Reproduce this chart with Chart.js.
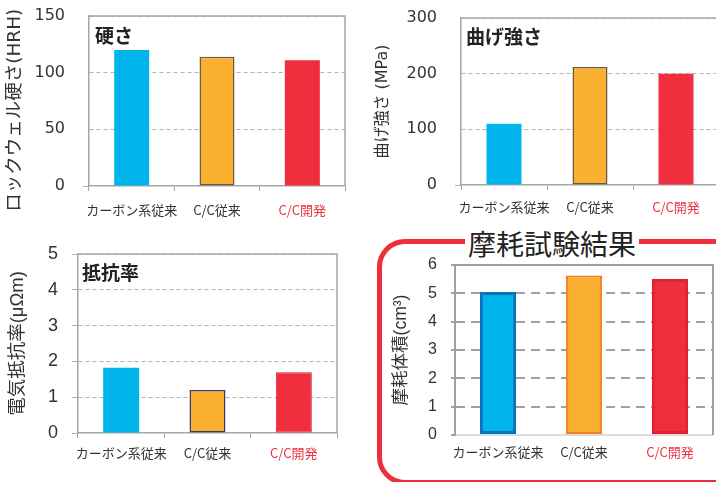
<!DOCTYPE html>
<html lang="ja">
<head>
<meta charset="utf-8">
<script src="https://cdn.jsdelivr.net/npm/chart.js@4.4.1/dist/chart.umd.min.js"></script>
<style>
  html, body { margin: 0; padding: 0; background: #fff; overflow: hidden; }
  #page { position: relative; width: 716px; height: 482px; overflow: hidden; font-family: "Noto Sans CJK JP", sans-serif; }
  canvas { position: absolute; }
  #wearBox { position: absolute; left: 377px; top: 239px; width: 400px; height: 236px; border: 5px solid #ee2e3d; border-radius: 28px; }
  #wearTitle { position: absolute; left: 552px; top: 243px; transform: translate(-50%, -50%); background: #fff; padding: 0 3px; font-size: 28px; color: #222; line-height: 1; white-space: nowrap; }
</style>
</head>
<body>
<div id="page">
  <div id="wearBox"></div>
  <div id="wearTitle">摩耗試験結果</div>
  <canvas id="hardness" width="360" height="230" style="left:0;top:0;width:360px;height:230px"></canvas>
  <canvas id="bend" width="364" height="230" style="left:360px;top:0;width:364px;height:230px"></canvas>
  <canvas id="resist" width="370" height="252" style="left:0;top:230px;width:370px;height:252px"></canvas>
  <canvas id="wear" width="336" height="232" style="left:380px;top:250px;width:336px;height:232px"></canvas>
</div>
<script>
const categories = ["カーボン系従来", "C/C従来", "C/C開発"];
const hardnessValues = [120, 114, 111];
const bendValues = [110, 212, 200];
const resistivityValues = [1.82, 1.2, 1.7];
const wearValues = [5.05, 5.63, 5.51];

const fillColors = ["#00b4ec", "#fbb030", "#ef2e3e"];
const none = "rgba(0,0,0,0)";
const verdanaLike = '"DejaVu Sans", "Noto Sans CJK JP", sans-serif';
const arialLike = '"Liberation Sans", "Noto Sans CJK JP", sans-serif';

Chart.defaults.font.family = '"Noto Sans CJK JP", sans-serif';

// frame (top + right) and the bold title inside the plot
const panelPlugin = {
  id: "panel",
  afterDraw(chart, args, opts) {
    const { ctx, chartArea: a } = chart;
    ctx.save();
    ctx.strokeStyle = opts.frameColor;
    ctx.lineWidth = opts.frameWidth;
    ctx.beginPath();
    ctx.moveTo(a.left, a.top);
    ctx.lineTo(a.right, a.top);
    ctx.lineTo(a.right, a.bottom);
    ctx.stroke();
    if (opts.text) {
      ctx.fillStyle = "#222";
      ctx.font = 'bold 19px "Noto Sans CJK JP"';
      ctx.textBaseline = "middle";
      ctx.fillText(opts.text, a.left + opts.dx, a.top + opts.dy);
    }
    ctx.restore();
  },
};

function makeChart(id, s) {
  return new Chart(document.getElementById(id), {
    type: "bar",
    data: {
      labels: categories,
      datasets: [{
        data: s.values,
        backgroundColor: fillColors,
        borderColor: s.borderColors,
        borderWidth: s.borderWidths,
        borderSkipped: false,
        barPercentage: s.barPct,
        categoryPercentage: 1,
      }],
    },
    options: {
      responsive: false,
      animation: false,
      layout: { padding: { top: s.padTop, right: s.padRight, left: 0, bottom: 0 } },
      plugins: {
        legend: { display: false },
        tooltip: { enabled: false },
        panel: { text: s.title, dx: s.titleDx, dy: s.titleDy, frameColor: s.axisColor, frameWidth: s.axisWidth },
      },
      scales: {
        x: {
          grid: {
            display: s.xTicks,
            drawOnChartArea: false,
            offset: true,
            tickLength: 5,
            color: s.axisColor,
            lineWidth: 1,
          },
          border: { color: s.xAxisColor, width: s.axisWidth },
          ticks: {
            color: (ctx) => (ctx.index === 2 ? "#ea3440" : "#333"),
            font: { size: 13 },
            padding: s.xPad,
            maxRotation: 0,
            autoSkip: false,
          },
          afterFit: (sc) => {
            sc.height = s.xHeight;
            sc.paddingLeft = 0;
            sc.paddingRight = 0;
          },
        },
        y: {
          min: 0,
          max: s.max,
          ticks: {
            stepSize: s.step,
            color: "#333",
            font: { size: s.tickSize, family: s.tickFamily },
            padding: s.yPad,
          },
          grid: {
            color: (ctx) => (ctx.tick && ctx.tick.value === 0 ? none : s.gridColor),
            lineWidth: s.gridWidth,
            tickLength: s.yTickLen,
            tickColor: (ctx) => (s.allTicks || ctx.index === 0 ? s.gridColor : none),
          },
          border: { color: s.axisColor, width: s.axisWidth, dash: s.dash },
          title: {
            display: true,
            text: s.yTitle,
            color: "#333",
            font: { size: s.yTitleSize, family: s.yTitleFamily },
            padding: { top: s.yTitlePad, bottom: 0 },
          },
          afterFit: (sc) => {
            sc.width = s.yWidth;
            sc.paddingTop = 0;
            sc.paddingBottom = 0;
          },
        },
      },
    },
    plugins: [panelPlugin],
  });
}

makeChart("hardness", {
  values: hardnessValues, max: 150, step: 50,
  borderColors: [none, "#6b5846", none], borderWidths: [0, 1.5, 0], barPct: 0.41,
  padTop: 16, padRight: 15, yWidth: 89, xHeight: 44,
  title: "硬さ", titleDx: 6, titleDy: 20,
  yTitle: "ロックウェル硬さ(HRH)\u3000", yTitleSize: 18.5, yTitlePad: 4, yTitleFamily: verdanaLike,
  tickSize: 16, tickFamily: verdanaLike,
  yPad: 18, yTickLen: 6, allTicks: false, xPad: 11, xTicks: true,
  gridColor: "#b3b3b3", gridWidth: 1, dash: [4, 3],
  axisColor: "#a6a6a6", xAxisColor: "#a6a6a6", axisWidth: 1.5,
});

makeChart("bend", {
  values: bendValues, max: 300, step: 100,
  borderColors: [none, "#6b5846", none], borderWidths: [0, 1.5, 0], barPct: 0.407,
  padTop: 18, padRight: 5, yWidth: 101, xHeight: 45,
  title: "曲げ強さ", titleDx: 5, titleDy: 19,
  yTitle: "曲げ強さ (MPa)", yTitleSize: 16, yTitlePad: 13, yTitleFamily: verdanaLike,
  tickSize: 16, tickFamily: verdanaLike,
  yPad: 18, yTickLen: 6, allTicks: false, xPad: 9, xTicks: true,
  gridColor: "#b3b3b3", gridWidth: 1, dash: [4, 3],
  axisColor: "#a6a6a6", xAxisColor: "#a6a6a6", axisWidth: 1.5,
});

makeChart("resist", {
  values: resistivityValues, max: 5, step: 1,
  borderColors: [none, "#3d3b6a", "#e52230"], borderWidths: [0, 1.5, 1], barPct: 0.417,
  padTop: 24, padRight: 33, yWidth: 78, xHeight: 49,
  title: "抵抗率", titleDx: 4, titleDy: 19,
  yTitle: "電気抵抗率(μΩm)", yTitleSize: 18.5, yTitlePad: 7, yTitleFamily: arialLike,
  tickSize: 18, tickFamily: arialLike,
  yPad: 14, yTickLen: 6, allTicks: true, xPad: 7, xTicks: true,
  gridColor: "#b3b3b3", gridWidth: 1, dash: [4, 3],
  axisColor: "#a6a6a6", xAxisColor: "#a6a6a6", axisWidth: 1.5,
});

makeChart("wear", {
  values: wearValues, max: 6, step: 1,
  borderColors: ["#0a74bb", "#f57e2a", "#e3202e"], borderWidths: [3, 2, 3], barPct: 0.42,
  padTop: 15, padRight: 3, yWidth: 75, xHeight: 47,
  title: "", titleDx: 0, titleDy: 0,
  yTitle: "摩耗体積(cm³)", yTitleSize: 17.5, yTitlePad: 11, yTitleFamily: arialLike,
  tickSize: 16, tickFamily: arialLike,
  yPad: 14, yTickLen: 4, allTicks: true, xPad: 4, xTicks: false,
  gridColor: "#a0a0a0", gridWidth: 2, dash: [9, 6],
  axisColor: "#a0a0a0", xAxisColor: "#dcdcdc", axisWidth: 2,
});
</script>
</body>
</html>
